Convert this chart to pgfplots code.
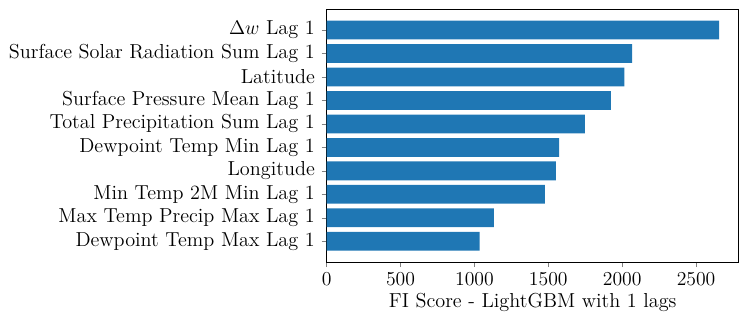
\documentclass[12pt,border={1.4pt 2pt 5.4pt 5.4pt}]{standalone}
\usepackage{pgfplots}
\pgfplotsset{compat=1.18}
\definecolor{tabblue}{RGB}{31,119,180}
\begin{document}
\begin{tikzpicture}
    \begin{axis}[
        xbar, xmin=0, xmax=2789,
        ymin=-0.89, ymax=9.89,
        width=250.6pt, height=153.8pt,
        scale only axis,
        bar width=0.8,
        font=\fontsize{12.3}{14}\selectfont,
        xlabel={FI Score - LightGBM with 1 lags},
        xtick={0,500,1000,1500,2000,2500},
        ytick={0,1,2,3,4,5,6,7,8,9},
        yticklabels={
            {Dewpoint Temp Max Lag 1},
            {Max Temp Precip Max Lag 1},
            {Min Temp 2M Min Lag 1},
            {Longitude},
            {Dewpoint Temp Min Lag 1},
            {Total Precipitation Sum Lag 1},
            {Surface Pressure Mean Lag 1},
            {Latitude},
            {Surface Solar Radiation Sum Lag 1},
            {$\Delta w$ Lag 1}
        },
        tick align=outside,
        xtick pos=bottom, ytick pos=left,
        major tick length=3pt,
        xticklabel style={yshift=1pt},
        xlabel style={yshift=3pt},
        scaled x ticks=false,
        /pgf/number format/set thousands separator={},
    ]
    \addplot[fill=tabblue, draw=none] coordinates {
        (1035,0)
        (1132,1)
        (1477,2)
        (1551,3)
        (1573,4)
        (1747,5)
        (1924,6)
        (2014,7)
        (2068,8)
        (2656,9)};
    \end{axis}
\end{tikzpicture}
\end{document}
